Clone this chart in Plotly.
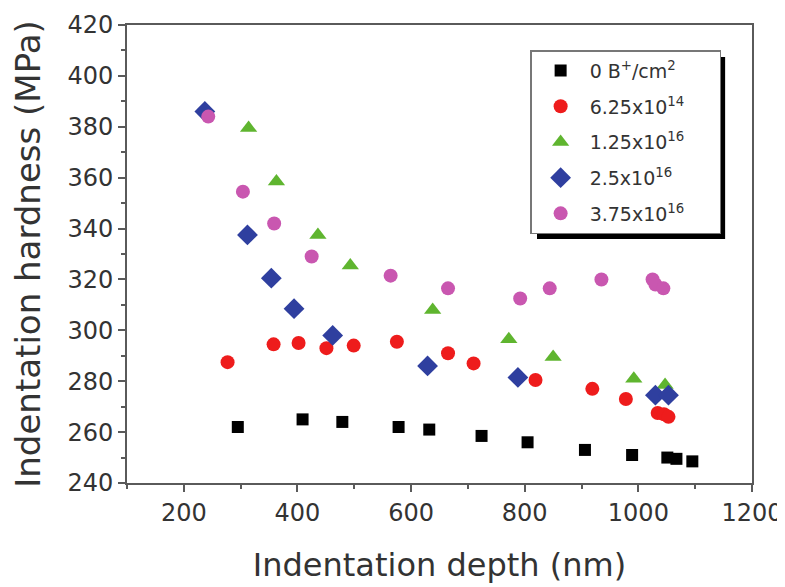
import plotly.graph_objects as go

# ---- data ----
x_0 = [295, 409, 479, 578, 632, 724, 805, 906, 989, 1051, 1067, 1095]
y_0 = [262, 265, 264, 262, 261, 258.5, 256, 253, 251, 250, 249.5, 248.5]

x_625e14 = [277, 358, 402, 451, 499, 575, 665, 710, 819, 919, 978, 1034, 1045, 1053]
y_625e14 = [287.5, 294.5, 295, 293, 294, 295.5, 291, 287, 280.5, 277, 273, 267.5, 267, 266]

x_125e16 = [314, 363, 436, 493, 638, 772, 850, 992, 1047]
y_125e16 = [379.5, 358.5, 337.5, 325.5, 308, 296.5, 289.5, 281, 278.5]

x_25e16 = [237, 312, 354, 394, 462, 629, 788, 1030, 1053]
y_25e16 = [386, 337.5, 320.5, 308.5, 298, 286, 281.5, 274.5, 274.5]

x_375e16 = [243, 304, 359, 425, 564, 665, 792, 844, 935, 1025, 1030, 1044]
y_375e16 = [384, 354.5, 342, 329, 321.5, 316.5, 312.5, 316.5, 320, 320, 318, 316.5]

names = ["0 B<sup>+</sup>/cm<sup>2</sup>", "6.25x10<sup>14</sup>", "1.25x10<sup>16</sup>",
         "2.5x10<sup>16</sup>", "3.75x10<sup>16</sup>"]

x_ticks = [200, 400, 600, 800, 1000, 1200]
y_ticks = [240, 260, 280, 300, 320, 340, 360, 380, 400, 420]

FONT = "DejaVu Sans, Arial"
PAD = "\u00a0" * 5  # widens the legend box to match the reference
series = [
    (x_0, y_0, "square", "#000000", 12),
    (x_625e14, y_625e14, "circle", "#ee1c1c", 14),
    (x_125e16, y_125e16, "triangle-up", "#5fb52f", 15),
    (x_25e16, y_25e16, "diamond", "#2f3f9f", 16),
    (x_375e16, y_375e16, "circle", "#c957b0", 14),
]

fig = go.Figure()
for i, (xs, ys, sym, col, sz) in enumerate(series):
    fig.add_trace(go.Scatter(
        x=xs, y=ys, mode="markers", name=names[i] + PAD, legendgroup=str(i),
        marker=dict(symbol=sym, color=col, size=sz, line=dict(width=0)),
    ))

axis_common = dict(
    showline=True, linecolor="#5a5a5a", linewidth=2, mirror=True,
    ticks="outside", ticklen=7, tickwidth=1.5, tickcolor="#5a5a5a",
    showgrid=False, zeroline=False, automargin=False,
    tickfont=dict(family=FONT, size=24, color="#333333"),
)

# page body has an 8px margin: figure is sized to fit the 785x587 window
fig.update_layout(
    width=777, height=579,
    margin=dict(l=119, r=33, t=17, b=104),
    paper_bgcolor="white", plot_bgcolor="white",
    xaxis=dict(range=[100, 1200], tickvals=x_ticks,
               minor=dict(ticks="outside", ticklen=4, tickcolor="#5a5a5a", dtick=100, tick0=100),
               title=dict(text="Indentation depth (nm)", standoff=28,
                          font=dict(family=FONT, size=32, color="#333333")),
               **axis_common),
    yaxis=dict(range=[240, 420], tickvals=y_ticks,
               minor=dict(ticks="outside", ticklen=4, tickcolor="#5a5a5a", dtick=10, tick0=240),
               title=dict(text="Indentation hardness (MPa)", standoff=16,
                          font=dict(family=FONT, size=34, color="#333333")),
               **axis_common),
    legend=dict(
        x=0.645, y=0.945, xanchor="left", yanchor="top",
        bgcolor="white", bordercolor="#777777", borderwidth=1.5,
        font=dict(family=FONT, size=19, color="#333333"),
        tracegroupgap=8, itemwidth=48,
    ),
    showlegend=True,
)

# legend drop shadow
fig.add_shape(type="rect", xref="paper", yref="paper",
              x0=0.656, x1=0.957, y0=0.533, y1=0.930,
              fillcolor="black", line=dict(width=0), layer="above")

fig.write_html("out.html")
